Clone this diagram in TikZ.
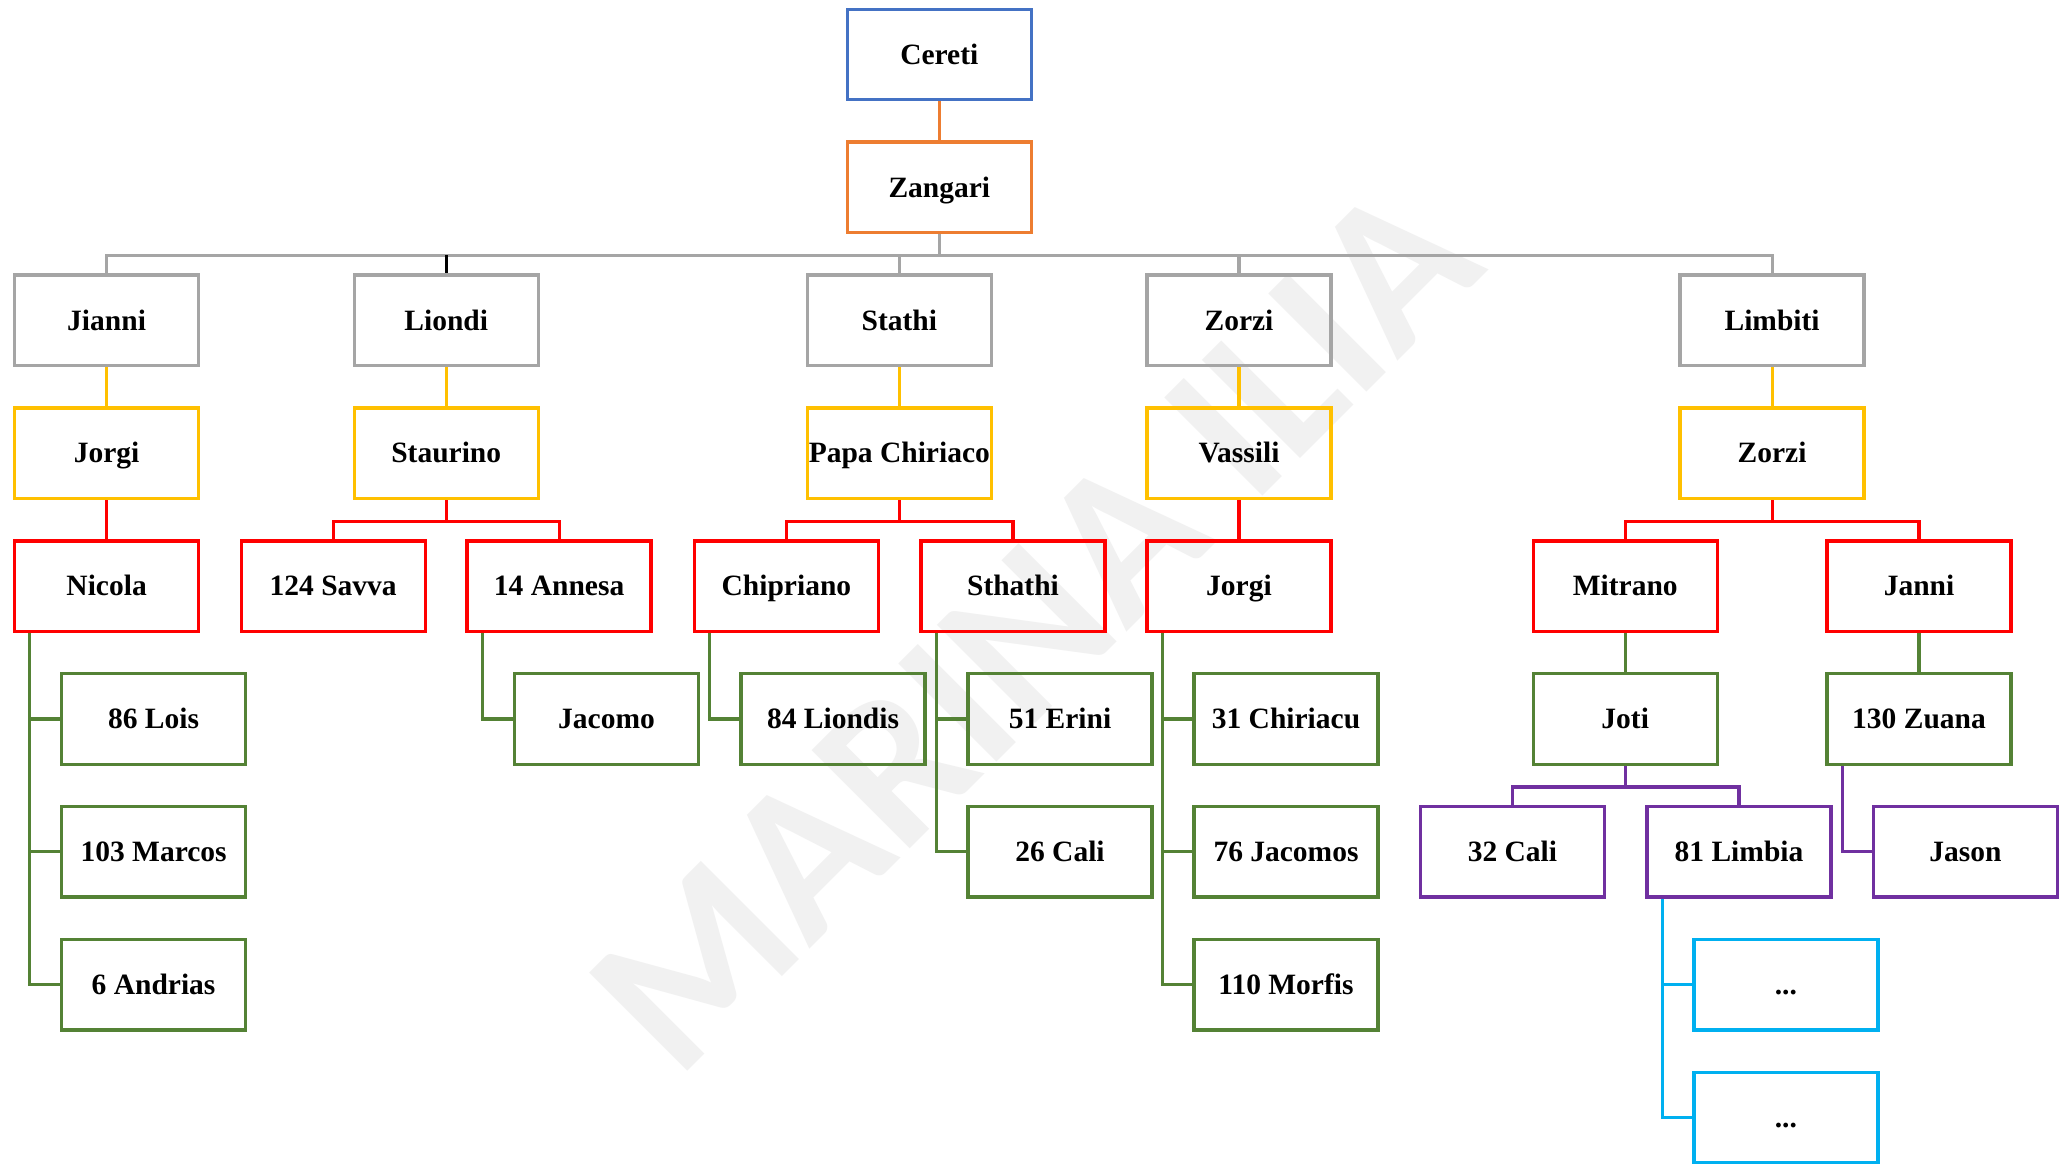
\documentclass[tikz,border=0pt]{standalone}
\usepackage{fontspec}
\setmainfont{Liberation Serif}
\newfontfamily\wmfont{Carlito}
\usetikzlibrary{calc}
\definecolor{cblue}{HTML}{4472C4}
\definecolor{corange}{HTML}{ED7D31}
\definecolor{cgrey}{HTML}{A5A5A5}
\definecolor{cgold}{HTML}{FFC000}
\definecolor{cred}{HTML}{FF0000}
\definecolor{cgreen}{HTML}{548235}
\definecolor{cpurple}{HTML}{7030A0}
\definecolor{ccyan}{HTML}{00B0F0}
\definecolor{cwm}{HTML}{F1F1F1}
\tikzset{
  person/.style={draw, line width=3.4pt, minimum width=184pt, minimum height=90.5pt,
    inner sep=0pt, text height=19.5pt, text depth=0pt,
    font=\fontsize{29.5}{32}\selectfont\bfseries},
  link/.style={line width=3.1pt},
}
\begin{document}
\begin{tikzpicture}[x=1pt,y=-1pt]
\fill[white] (0,0) rectangle (2069,1164);
\useasboundingbox (0,0) rectangle (2069,1164);
% watermark
\node[rotate=45, text=cwm, font=\wmfont\bfseries\fontsize{214}{214}\selectfont, inner sep=0pt] (wm) at (1034,627) {MARINA ILIA};
% row 0-1
\node[person, draw=cblue] (cereti) at (939.3,54.5) {Cereti};
\node[person, draw=corange] (zangari) at (939.3,187.4) {Zangari};
% row 2
\node[person, draw=cgrey] (jianni) at (106.6,320.3) {Jianni};
\node[person, draw=cgrey] (liondi) at (446.2,320.3) {Liondi};
\node[person, draw=cgrey] (stathi) at (899.3,320.3) {Stathi};
\node[person, draw=cgrey] (zorzi) at (1239,320.3) {Zorzi};
\node[person, draw=cgrey] (limbiti) at (1772.1,320.3) {Limbiti};
% row 3
\node[person, draw=cgold] (jorgi) at (106.6,453.2) {Jorgi};
\node[person, draw=cgold] (staurino) at (446.2,453.2) {Staurino};
\node[person, draw=cgold] (papa) at (899.3,453.2) {Papa Chiriaco};
\node[person, draw=cgold] (vassili) at (1239,453.2) {Vassili};
\node[person, draw=cgold] (zorzib) at (1772.1,453.2) {Zorzi};
% row 4
\node[person, draw=cred] (nicola) at (106.6,586.1) {Nicola};
\node[person, draw=cred] (savva) at (333.2,586.1) {124 Savva};
\node[person, draw=cred] (annesa) at (559.1,586.1) {14 Annesa};
\node[person, draw=cred] (chipriano) at (786.4,586.1) {Chipriano};
\node[person, draw=cred] (sthathi) at (1013,586.1) {Sthathi};
\node[person, draw=cred] (jorgib) at (1239,586.1) {Jorgi};
\node[person, draw=cred] (mitrano) at (1625.2,586.1) {Mitrano};
\node[person, draw=cred] (janni) at (1919,586.1) {Janni};
% row 5
\node[person, draw=cgreen] (lois) at (153.6,719) {86 Lois};
\node[person, draw=cgreen] (jacomo) at (606.5,719) {Jacomo};
\node[person, draw=cgreen] (liondis) at (833,719) {84 Liondis};
\node[person, draw=cgreen] (erini) at (1060,719) {51 Erini};
\node[person, draw=cgreen] (chiriacu) at (1286,719) {31 Chiriacu};
\node[person, draw=cgreen] (joti) at (1625.2,719) {Joti};
\node[person, draw=cgreen] (zuana) at (1919,719) {130 Zuana};
% row 6
\node[person, draw=cgreen] (marcos) at (153.6,851.9) {103 Marcos};
\node[person, draw=cgreen] (calia) at (1060,851.9) {26 Cali};
\node[person, draw=cgreen] (jacomos) at (1286,851.9) {76 Jacomos};
\node[person, draw=cpurple] (calib) at (1512.4,851.9) {32 Cali};
\node[person, draw=cpurple] (limbia) at (1739,851.9) {81 Limbia};
\node[person, draw=cpurple] (jason) at (1965.4,851.9) {Jason};
% row 7-8
\node[person, draw=cgreen] (andrias) at (153.6,984.8) {6 Andrias};
\node[person, draw=cgreen] (morfis) at (1286,984.8) {110 Morfis};
\node[person, draw=ccyan] (dotsa) at (1785.8,984.8) {...};
\node[person, draw=ccyan] (dotsb) at (1785.8,1117.7) {...};
% connectors
\draw[link,corange] (cereti.south) -- (zangari.north);
\coordinate (busa) at ($(zangari.south)+(0,21)$);
\draw[link,cgrey] (zangari.south) -- (busa);
\draw[link,cgrey] (jianni.north) |- (busa) -| (limbiti.north);
\draw[link,cgrey] (busa -| stathi.north) -- (stathi.north);
\draw[link,cgrey] (busa -| zorzi.north) -- (zorzi.north);
\draw[link,black] (busa -| liondi.north) -- (liondi.north);
\draw[link,cgold] (jianni.south) -- (jorgi.north);
\draw[link,cgold] (liondi.south) -- (staurino.north);
\draw[link,cgold] (stathi.south) -- (papa.north);
\draw[link,cgold] (zorzi.south) -- (vassili.north);
\draw[link,cgold] (limbiti.south) -- (zorzib.north);
\draw[link,cred] (jorgi.south) -- (nicola.north);
\draw[link,cred] (vassili.south) -- (jorgib.north);
\coordinate (busb) at ($(staurino.south)+(0,21)$);
\draw[link,cred] (staurino.south) -- (busb);
\draw[link,cred] (savva.north) |- (busb) -| (annesa.north);
\coordinate (busc) at ($(papa.south)+(0,21)$);
\draw[link,cred] (papa.south) -- (busc);
\draw[link,cred] (chipriano.north) |- (busc) -| (sthathi.north);
\coordinate (busd) at ($(zorzib.south)+(0,21)$);
\draw[link,cred] (zorzib.south) -- (busd);
\draw[link,cred] (mitrano.north) |- (busd) -| (janni.north);
% green
\draw[link,cgreen] ([xshift=17pt]nicola.south west) |- (lois.west);
\draw[link,cgreen] ([xshift=17pt]nicola.south west) |- (marcos.west);
\draw[link,cgreen] ([xshift=17pt]nicola.south west) |- (andrias.west);
\draw[link,cgreen] ([xshift=17pt]annesa.south west) |- (jacomo.west);
\draw[link,cgreen] ([xshift=17pt]chipriano.south west) |- (liondis.west);
\draw[link,cgreen] ([xshift=17pt]sthathi.south west) |- (erini.west);
\draw[link,cgreen] ([xshift=17pt]sthathi.south west) |- (calia.west);
\draw[link,cgreen] ([xshift=17pt]jorgib.south west) |- (chiriacu.west);
\draw[link,cgreen] ([xshift=17pt]jorgib.south west) |- (jacomos.west);
\draw[link,cgreen] ([xshift=17pt]jorgib.south west) |- (morfis.west);
\draw[link,cgreen] (mitrano.south) -- (joti.north);
\draw[link,cgreen] (janni.south) -- (zuana.north);
% purple
\coordinate (buse) at ($(joti.south)+(0,21)$);
\draw[link,cpurple] (joti.south) -- (buse);
\draw[link,cpurple] (calib.north) |- (buse) -| (limbia.north);
\draw[link,cpurple] ([xshift=17pt]zuana.south west) |- (jason.west);
% cyan
\draw[link,ccyan] ([xshift=17pt]limbia.south west) |- (dotsa.west);
\draw[link,ccyan] ([xshift=17pt]limbia.south west) |- (dotsb.west);
\end{tikzpicture}
\end{document}
